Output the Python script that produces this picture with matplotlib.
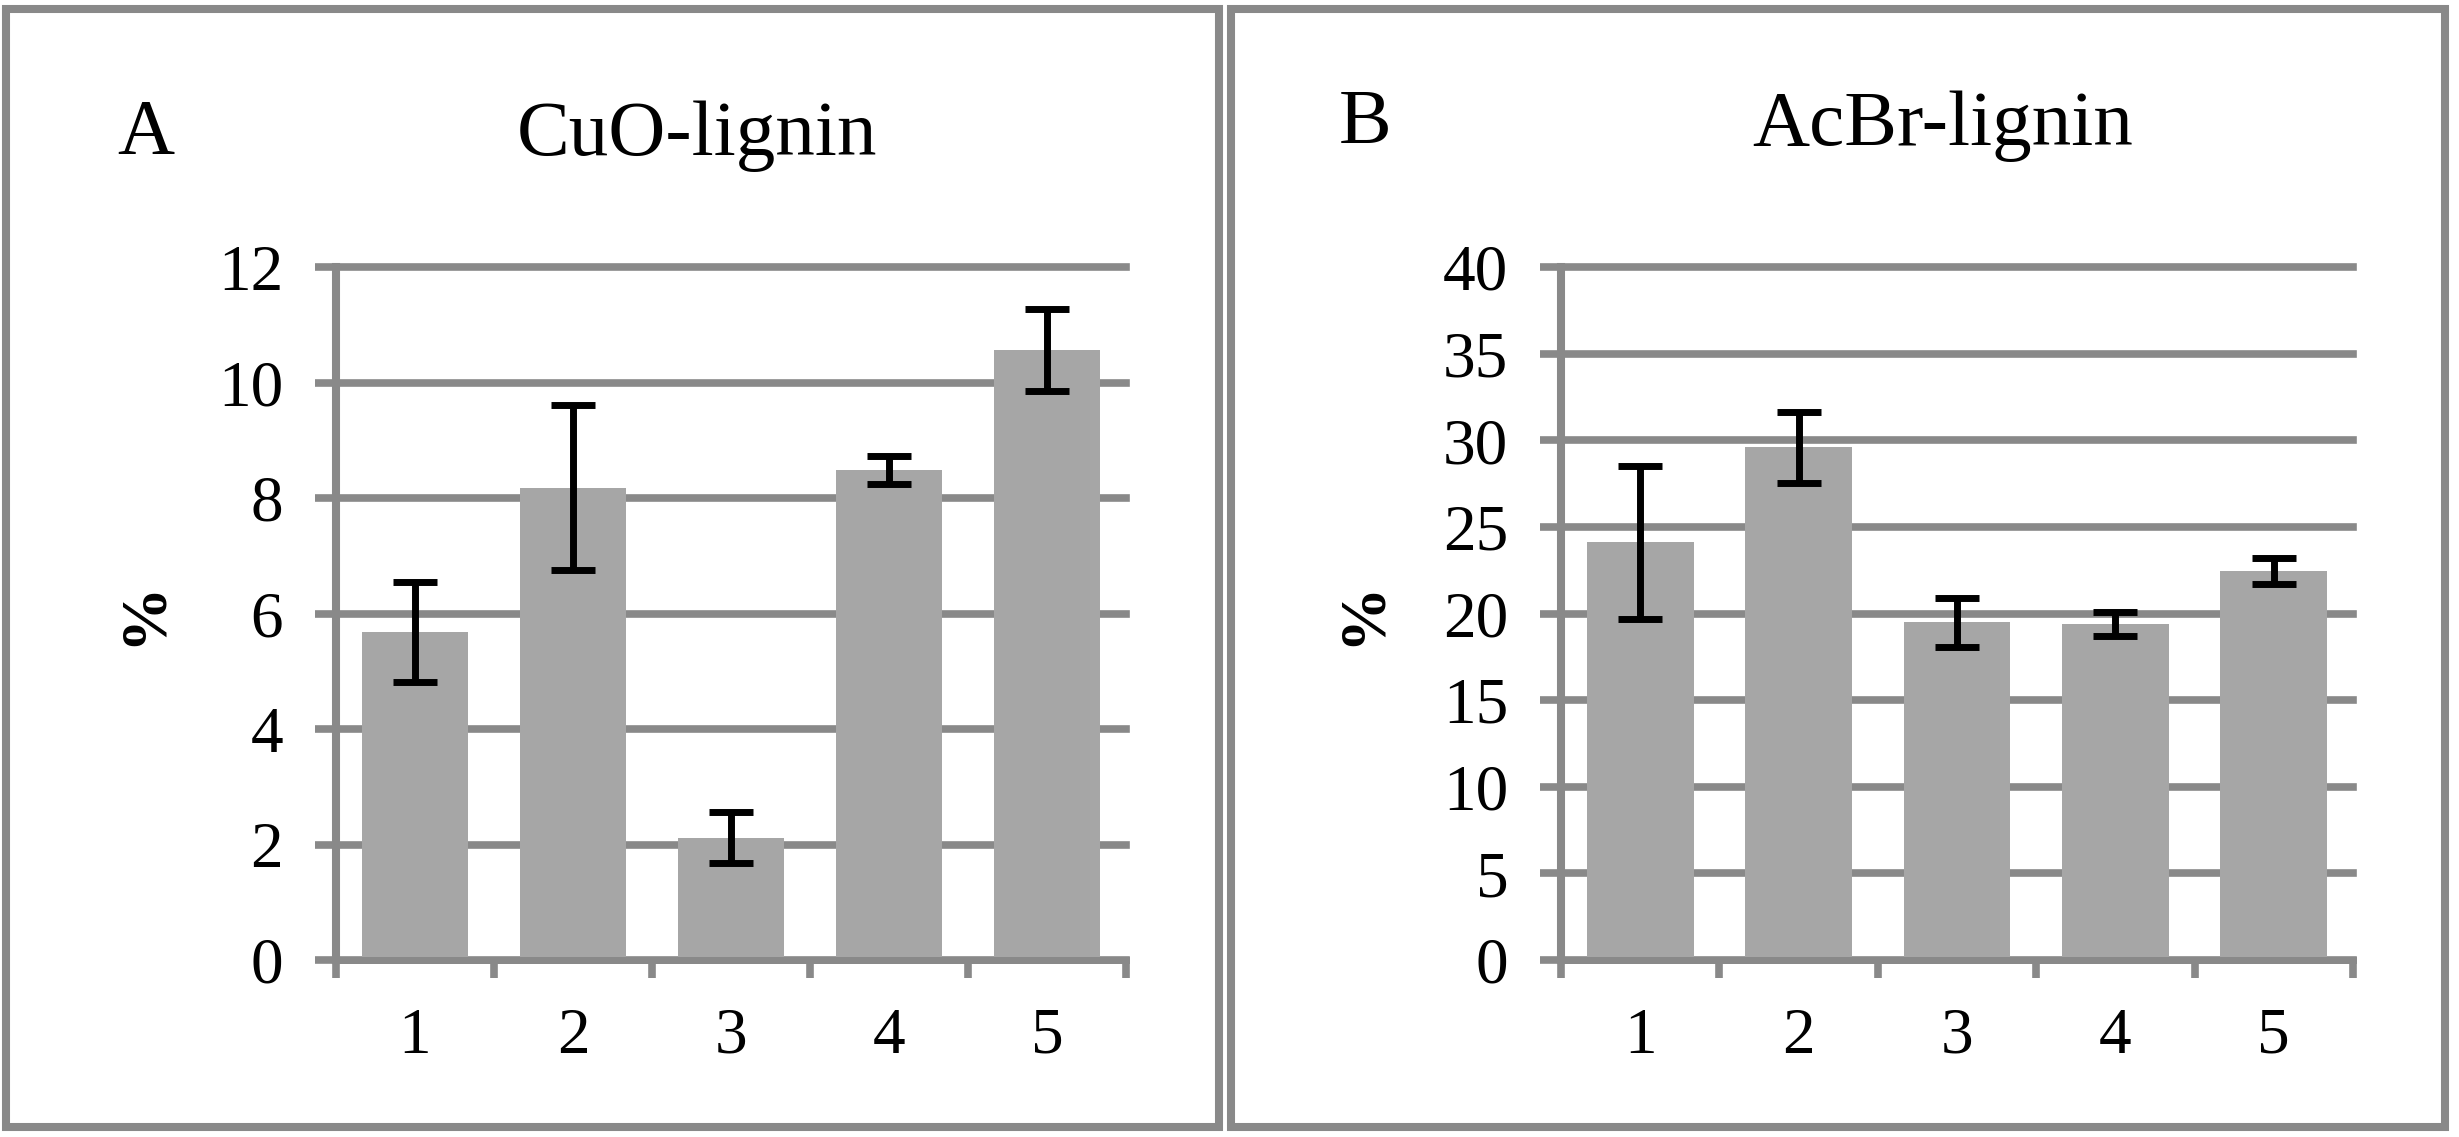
import numpy as np
import matplotlib.pyplot as plt
from matplotlib.patches import Rectangle
from matplotlib.ticker import FixedLocator, NullFormatter

plt.rcParams['font.family'] = ['Liberation Serif', 'DejaVu Serif']

# data
samples = ['1', '2', '3', '4', '5']
cuo_mean = [5.68, 8.18, 2.12, 8.48, 10.56]
cuo_err = [0.86, 1.43, 0.44, 0.24, 0.71]
acbr_mean = [24.1, 29.6, 19.5, 19.4, 22.45]
acbr_err = [4.4, 2.05, 1.42, 0.71, 0.73]

GRID = '#898989'
BAR = '#a6a6a6'
W, H = 2459, 1137


def draw_panel(ax, means, errs, ymax, ystep):
    x = np.arange(1, len(means) + 1)
    ax.bar(x, means, width=0.675, color=BAR, zorder=2)
    ax.errorbar(x, means, yerr=errs, fmt='none', ecolor='black',
                elinewidth=5, capsize=16, capthick=5, zorder=3)
    ax.set_xlim(0.5, len(means) + 0.5)
    ax.set_ylim(0, ymax)
    ax.set_yticks(np.arange(0, ymax + 0.1, ystep))
    ax.yaxis.grid(True, color=GRID, linewidth=5.5, zorder=0)
    ax.set_axisbelow(True)
    # category boundaries as major ticks, labels on minor ticks
    ax.xaxis.set_major_locator(FixedLocator(np.arange(0.5, len(means) + 1, 1)))
    ax.xaxis.set_major_formatter(NullFormatter())
    ax.xaxis.set_minor_locator(FixedLocator(x))
    ax.set_xticklabels(samples, minor=True)
    ax.tick_params(axis='x', which='major', direction='out', length=13,
                   width=5.5, color=GRID)
    ax.tick_params(axis='x', which='minor', length=0, pad=34, labelsize=47)
    ax.tick_params(axis='y', direction='out', length=15, width=5.5,
                   color=GRID, pad=23, labelsize=47)
    for s in ['top', 'right']:
        ax.spines[s].set_visible(False)
    ax.spines['left'].set_color(GRID)
    ax.spines['left'].set_linewidth(5.8)
    ax.spines['bottom'].set_color(GRID)
    ax.spines['bottom'].set_linewidth(5)
    ax.set_ylabel('%', fontsize=47, fontweight='bold', labelpad=0)


fig = plt.figure(figsize=(W / 100, H / 100), dpi=100)

# panel frames
for x0, x1 in [(6, 1219), (1231, 2445)]:
    fig.patches.append(Rectangle((x0 / W, 10 / H), (x1 - x0) / W, (1128 - 10) / H,
                                 transform=fig.transFigure, fill=False,
                                 edgecolor=GRID, linewidth=5.8))

ax1 = fig.add_axes([336 / W, 1 - 960 / H, 790 / W, 693 / H])
draw_panel(ax1, cuo_mean, cuo_err, 12, 2)
ax1.yaxis.set_label_coords(-(336 - 174) / 790, 0.5)

ax2 = fig.add_axes([1561 / W, 1 - 960 / H, 792 / W, 693 / H])
draw_panel(ax2, acbr_mean, acbr_err, 40, 5)
ax2.yaxis.set_label_coords(-(1561 - 1393) / 792, 0.5)

# keep the top gridline at full width instead of clipped at the axes edge
fig.canvas.draw()
for ax in (ax1, ax2):
    for gl in ax.get_ygridlines():
        gl.set_clip_on(False)

fig.text(146 / W, 1 - 153 / H, 'A', fontsize=57, ha='center', va='baseline')
fig.text(697 / W, 1 - 155 / H, 'CuO-lignin', fontsize=57, ha='center', va='baseline')
fig.text(1365 / W, 1 - 143 / H, 'B', fontsize=57, ha='center', va='baseline')
fig.text(1943 / W, 1 - 145 / H, 'AcBr-lignin', fontsize=57, ha='center', va='baseline')

fig.savefig('out.png', dpi=100, facecolor='white')
